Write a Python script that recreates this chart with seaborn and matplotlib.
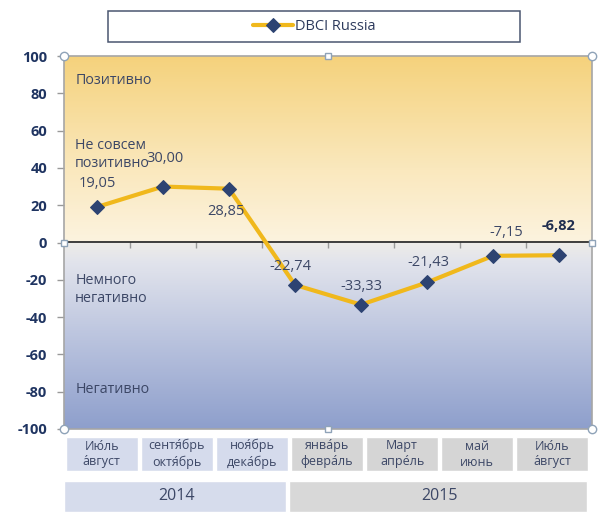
import numpy as np
import pandas as pd
import matplotlib
matplotlib.use('Agg')
import matplotlib.pyplot as plt
from matplotlib.colors import LinearSegmentedColormap
from matplotlib.patches import Rectangle
import seaborn as sns

# Werte
periods = ['Jul-Aug 14', 'Sep-Okt 14', 'Nov-Dez 14', 'Jan-Feb 15',
           'Mär-Apr 15', 'Mai-Jun 15', 'Jul-Aug 15', 'Sep 15']
dbci = [19.05, 30.00, 28.85, -22.74, -33.33, -21.43, -7.15, -6.82]
value_labels = ['19,05', '30,00', '28,85', '-22,74', '-33,33', '-21,43', '-7,15', '-6,82']
# Versatz der Beschriftungen in Pixel (dx, dy)
label_offsets = [(0, 23), (2, 28), (-3, -23), (-5, 18), (0, 18), (1, 20), (13, 23), (0, 29)]

month_labels = ['Ию́ль\nа́вгуст', 'сентя́брь\nоктя́брь', 'ноя́брь\nдека́брь',
                'янва́рь\nфевра́ль', 'Март\nапре́ль', 'май\nиюнь', 'Ию́ль\nа́вгуст']
month_year = [2014, 2014, 2014, 2015, 2015, 2015, 2015]
years = ['2014', '2015']
year_start = [0, 3]
year_span = [3, 4]

zones = ['Позитивно', 'Не совсем\nпозитивно', 'Немного\nнегативно', 'Негативно']
zone_y = [87, 47, -25, -79]

sns.set_theme(style='white')
plt.rcParams['font.family'] = ['Open Sans', 'DejaVu Sans']

TXT = '#3c4766'
NAVY = '#1f3461'
GOLD = '#f0b81c'
BLUE_BOX = '#d5dbec'
GRAY_BOX = '#d5d5d5'

W, H = 600, 520
fig = plt.figure(figsize=(6, 5.2), dpi=100)

def fx(px):
    return px / W

def fy(py):
    return 1 - py / H

ax = fig.add_axes([fx(64), fy(429), fx(592) - fx(64), fy(56) - fy(429)])

# Hintergrund-Verlauf
cmap = LinearSegmentedColormap.from_list('bg', [
    (0.0, '#8e9fcc'), (0.25, '#bcc5df'), (0.45, '#e2e4ec'), (0.499, '#eeece8'),
    (0.501, '#fcf3df'), (0.7, '#fae8bd'), (1.0, '#f5d27c')])
grad = np.linspace(0, 1, 256).reshape(-1, 1)
ax.imshow(grad, cmap=cmap, aspect='auto', origin='lower',
          extent=[-0.5, len(dbci) - 0.5, -100, 100], zorder=0)

df = pd.DataFrame({'pos': np.arange(len(dbci)), 'value': dbci})
sns.lineplot(data=df, x='pos', y='value', ax=ax, color=GOLD, linewidth=3,
             marker='D', markersize=7.5, markerfacecolor='#2d4372',
             markeredgecolor='#2d4372', label='DBCI Russia', zorder=3)

for i, (v, lab, off) in enumerate(zip(dbci, value_labels, label_offsets)):
    last = i == len(dbci) - 1
    ax.annotate(lab, (i, v), xytext=(off[0] * 0.72, off[1] * 0.72),
                textcoords='offset points', ha='center', va='center',
                fontsize=10.5, color='#1f2d4f' if last else TXT,
                fontweight='bold' if last else 'normal', zorder=4)

for z, zy in zip(zones, zone_y):
    ax.text(-0.33, zy, z, ha='left', va='center', fontsize=10.3, color=TXT,
            linespacing=1.25, zorder=2)

ax.set_xlim(-0.5, len(dbci) - 0.5)
ax.set_ylim(-100, 100)
ax.set_yticks(np.arange(-100, 101, 20))
ax.set_yticklabels([str(t) for t in range(-100, 101, 20)], fontweight='bold',
                   color=NAVY, fontsize=10.5)
ax.tick_params(axis='y', left=True, length=5, color='#999999', width=1, pad=7)
ax.set_xticks([])
ax.set_xlabel('')
ax.set_ylabel('')
for sp in ax.spines.values():
    sp.set_color('#a6a6a6')
    sp.set_linewidth(1.2)

# Nulllinie mit Teilstrichen
zero = ax.secondary_xaxis(0.5)
zero.set_xticks(np.arange(0.5, len(dbci) - 0.5, 1))
zero.set_xticklabels([])
zero.tick_params(direction='in', length=4, color='#999999', width=1)
zero.spines['bottom'].set_color('#999999')
zero.spines['bottom'].set_linewidth(1.2)

# Markierungspunkte (Auswahlgriffe)
for hx, hy, m in [(0, 1, 'o'), (1, 1, 'o'), (0, 0, 'o'), (1, 0, 'o'),
                  (0.5, 1, 's'), (0.5, 0, 's'), (0, 0.5, 's'), (1, 0.5, 's')]:
    ax.plot(hx, hy, marker=m, markersize=6 if m == 'o' else 5, markerfacecolor='white',
            markeredgecolor='#8fa3b8', markeredgewidth=1, transform=ax.transAxes,
            clip_on=False, zorder=6)

ax.get_legend().remove()

# Legende
fig.patches.append(Rectangle((fx(108), fy(42)), fx(520) - fx(108), fy(11) - fy(42),
                             transform=fig.transFigure, facecolor='white',
                             edgecolor='#4a5670', linewidth=1.1))
handles, labels = ax.get_legend_handles_labels()
fig.legend(handles, labels, loc='center', bbox_to_anchor=(fx(314), fy(26.5)),
           frameon=False, fontsize=10.5, handlelength=2.8, handletextpad=0.1,
           labelcolor='#2d3a5c')

# Monats-Kästchen
ax_m = fig.add_axes([fx(64), fy(471), fx(590) - fx(64), fy(437) - fy(471)])
ax_m.bar(np.arange(len(month_labels)), [1] * len(month_labels), width=0.96,
         color=[BLUE_BOX if y == 2014 else GRAY_BOX for y in month_year])
for i, lab in enumerate(month_labels):
    ax_m.text(i, 0.5, lab, ha='center', va='center', fontsize=9, color=TXT,
              linespacing=1.3)
ax_m.set_xlim(-0.5, len(month_labels) - 0.5)
ax_m.set_ylim(0, 1)
ax_m.axis('off')

# Jahres-Kästchen
ax_y = fig.add_axes([fx(64), fy(512), fx(590) - fx(64), fy(481) - fy(512)])
ax_y.bar(year_start, [1] * len(years), width=[s - 0.04 for s in year_span], align='edge',
         color=['#d6dcec', '#d8d8d8'])
for s, w, lab in zip(year_start, year_span, years):
    ax_y.text(s + w / 2, 0.5, lab, ha='center', va='center', fontsize=11.5, color=TXT)
ax_y.set_xlim(0, len(month_labels))
ax_y.set_ylim(0, 1)
ax_y.axis('off')

fig.savefig('out.png', dpi=100)
